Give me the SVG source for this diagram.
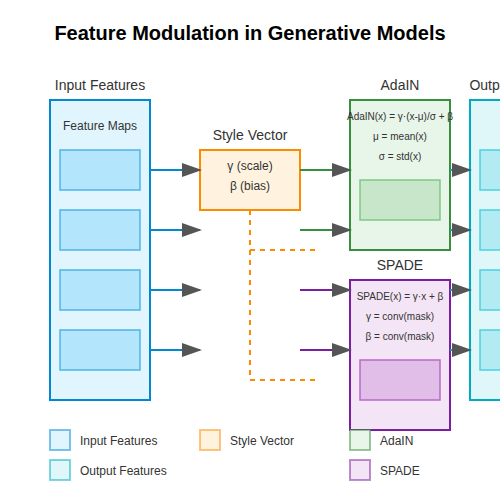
<svg xmlns="http://www.w3.org/2000/svg" width="500" height="500" viewBox="0 0 500 500">
<defs>
<marker id="arrow" markerWidth="10" markerHeight="7" refX="9" refY="3.5" orient="auto">
<polygon points="0 0, 10 3.5, 0 7" fill="#555"/>
</marker>
<style>
text{font-family:"Liberation Sans",Arial,sans-serif;fill:#333;text-anchor:middle}
.title{font-size:20px;font-weight:bold;fill:#000}
.lbl{font-size:14px}
.sm{font-size:12px}
.xs{font-size:10px}
.leg{font-size:12px;text-anchor:start}
.in{fill:#e1f5fe;stroke:#0288d1;stroke-width:2}
.inr{fill:#b3e5fc;stroke:#4fb3e8;stroke-width:1.5}
.sv{fill:#fff3e0;stroke:#fb8c00;stroke-width:2}
.ada{fill:#e8f5e9;stroke:#388e3c;stroke-width:2}
.adar{fill:#c8e6c9;stroke:#81c784;stroke-width:1.5}
.sp{fill:#f3e5f5;stroke:#7b1fa2;stroke-width:2}
.spr{fill:#e1bee7;stroke:#ba68c8;stroke-width:1.5}
.out{fill:#e0f7fa;stroke:#00acc1;stroke-width:2}
.outr{fill:#b2ebf2;stroke:#4dd0e1;stroke-width:1.5}
.c{fill:none;stroke-width:2;marker-end:url(#arrow)}
.dash{fill:none;stroke:#fb8c00;stroke-width:2;stroke-dasharray:5,5}
.lg{stroke-opacity:0.5;stroke-width:2}
</style>
</defs>
<rect width="500" height="500" fill="#fff"/>
<text class="title" x="250" y="40">Feature Modulation in Generative Models</text>

<g id="input">
<text class="lbl" x="100" y="90">Input Features</text>
<rect class="in" x="50" y="100" width="100" height="300"/>
<text class="sm" x="100" y="130">Feature Maps</text>
<rect class="inr" x="60" y="150" width="80" height="40"/>
<rect class="inr" x="60" y="210" width="80" height="40"/>
<rect class="inr" x="60" y="270" width="80" height="40"/>
<rect class="inr" x="60" y="330" width="80" height="40"/>
</g>

<g id="style">
<text class="lbl" x="250" y="140">Style Vector</text>
<rect class="sv" x="200" y="150" width="100" height="60"/>
<text class="sm" x="250" y="170">γ (scale)</text>
<text class="sm" x="250" y="190">β (bias)</text>
</g>

<g id="adain">
<text class="lbl" x="400" y="90">AdaIN</text>
<rect class="ada" x="350" y="100" width="100" height="150"/>
<text class="xs" x="400" y="120">AdaIN(x) = γ·(x-μ)/σ + β</text>
<text class="xs" x="400" y="140">μ = mean(x)</text>
<text class="xs" x="400" y="160">σ = std(x)</text>
<rect class="adar" x="360" y="180" width="80" height="40"/>
</g>

<g id="spade">
<text class="lbl" x="400" y="270">SPADE</text>
<rect class="sp" x="350" y="280" width="100" height="150"/>
<text class="xs" x="400" y="300">SPADE(x) = γ·x + β</text>
<text class="xs" x="400" y="320">γ = conv(mask)</text>
<text class="xs" x="400" y="340">β = conv(mask)</text>
<rect class="spr" x="360" y="360" width="80" height="40"/>
</g>

<g id="output">
<text class="lbl" x="520" y="90">Output Features</text>
<rect class="out" x="470" y="100" width="100" height="300"/>
<rect class="outr" x="480" y="150" width="80" height="40"/>
<rect class="outr" x="480" y="210" width="80" height="40"/>
<rect class="outr" x="480" y="270" width="80" height="40"/>
<rect class="outr" x="480" y="330" width="80" height="40"/>
</g>

<g id="connectors">
<path class="c" stroke="#0288d1" d="M150 170H200"/>
<path class="c" stroke="#0288d1" d="M150 230H200"/>
<path class="c" stroke="#0288d1" d="M150 290H200"/>
<path class="c" stroke="#0288d1" d="M150 350H200"/>
<path class="c" stroke="#388e3c" d="M300 170H350"/>
<path class="c" stroke="#388e3c" d="M300 230H350"/>
<path class="c" stroke="#7b1fa2" d="M300 290H350"/>
<path class="c" stroke="#7b1fa2" d="M300 350H350"/>
<path class="dash" d="M250 210V380H315"/>
<path class="dash" d="M250 250H315"/>
<path class="c" stroke="#00acc1" d="M450 170H470"/>
<path class="c" stroke="#00acc1" d="M450 230H470"/>
<path class="c" stroke="#00acc1" d="M450 290H470"/>
<path class="c" stroke="#00acc1" d="M450 350H470"/>
</g>

<g id="legend">
<rect class="in lg" x="50" y="430" width="20" height="20"/>
<text class="leg" x="80" y="445">Input Features</text>
<rect class="sv lg" x="200" y="430" width="20" height="20"/>
<text class="leg" x="230" y="445">Style Vector</text>
<rect class="ada lg" x="350" y="430" width="20" height="20"/>
<text class="leg" x="380" y="445">AdaIN</text>
<rect class="out lg" x="50" y="460" width="20" height="20"/>
<text class="leg" x="80" y="475">Output Features</text>
<rect class="sp lg" x="350" y="460" width="20" height="20"/>
<text class="leg" x="380" y="475">SPADE</text>
</g>
</svg>
